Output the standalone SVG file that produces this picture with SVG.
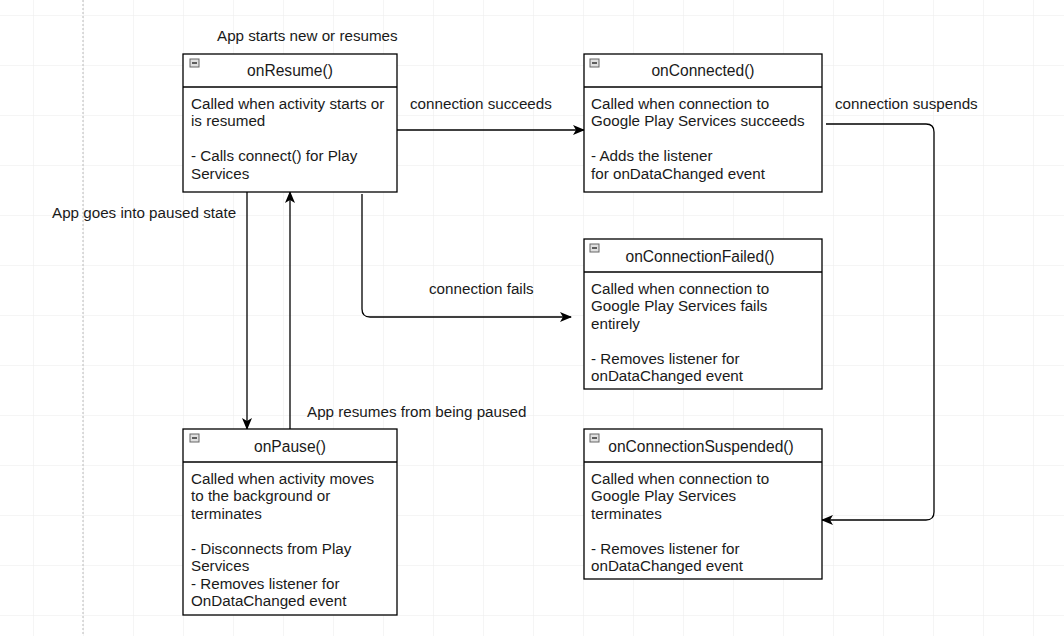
<svg xmlns="http://www.w3.org/2000/svg" width="1064" height="636" viewBox="0 0 1064 636">
<defs>
<pattern id="grid" x="33" y="15" width="50" height="50" patternUnits="userSpaceOnUse">
<path d="M0,0 L50,0 M0,0 L0,50" fill="none" stroke="#ebebeb" stroke-width="1"/>
</pattern>
<marker id="arr" viewBox="0 0 12 10" refX="11" refY="5" markerWidth="12" markerHeight="10" markerUnits="userSpaceOnUse" orient="auto">
<path d="M0,0 L12,5 L0,10 L3,5 Z" fill="#000"/>
</marker>
<g id="icon">
<rect x="0" y="0" width="9" height="8" fill="#e0e0e0" stroke="#666" stroke-width="1"/>
<line x1="2" y1="4" x2="7" y2="4" stroke="#333" stroke-width="1.5"/>
</g>
</defs>
<style>
text{font-family:"Liberation Sans",Arial,sans-serif;font-size:15.2px;fill:#1a1a1a}
.box{fill:#fff;stroke:#000;stroke-width:1.3}
.hdr{stroke:#000;stroke-width:1.3}
.title{text-anchor:middle;font-size:15.6px}
.edge{fill:none;stroke:#000;stroke-width:1.3}
</style>
<rect width="1064" height="636" fill="#fff"/>
<rect width="1064" height="636" fill="url(#grid)"/>
<line x1="83" y1="0" x2="83" y2="636" stroke="#bbb" stroke-width="1" stroke-dasharray="2,2"/>

<g id="connectors">
<path class="edge" d="M397,130 L584,130" marker-end="url(#arr)"/>
<path class="edge" d="M826,124 L926,124 Q934,124 934,132 L934,512 Q934,520 926,520 L822,520" marker-end="url(#arr)"/>
<path class="edge" d="M362,194 L362,309 Q362,317 370,317 L571,317" marker-end="url(#arr)"/>
<path class="edge" d="M247,192 L247,429" marker-end="url(#arr)"/>
<path class="edge" d="M290,429 L290,192" marker-end="url(#arr)"/>
<text x="217" y="41">App starts new or resumes</text>
<text x="410" y="109">connection succeeds</text>
<text x="835" y="109">connection suspends</text>
<text x="429" y="294">connection fails</text>
<text x="52" y="218">App goes into paused state</text>
<text x="307" y="417">App resumes from being paused</text>
</g>

<g id="onResume">
<rect class="box" x="183" y="54" width="214" height="138"/>
<line class="hdr" x1="183" y1="87" x2="397" y2="87"/>
<use href="#icon" x="190" y="59"/>
<text class="title" x="290" y="76">onResume()</text>
<text x="191" y="109">Called when activity starts or</text>
<text x="191" y="126">is resumed</text>
<text x="191" y="161">- Calls connect() for Play</text>
<text x="191" y="179">Services</text>
</g>

<g id="onConnected">
<rect class="box" x="584" y="54" width="238" height="138"/>
<line class="hdr" x1="584" y1="87" x2="822" y2="87"/>
<use href="#icon" x="590" y="59"/>
<text class="title" x="703" y="76">onConnected()</text>
<text x="591" y="109">Called when connection to</text>
<text x="591" y="126">Google Play Services succeeds</text>
<text x="591" y="161">- Adds the listener</text>
<text x="591" y="179">for onDataChanged event</text>
</g>

<g id="onConnectionFailed">
<rect class="box" x="584" y="239" width="238" height="150"/>
<line class="hdr" x1="584" y1="272" x2="822" y2="272"/>
<use href="#icon" x="590" y="244"/>
<text class="title" x="700" y="262">onConnectionFailed()</text>
<text x="591" y="294">Called when connection to</text>
<text x="591" y="311">Google Play Services fails</text>
<text x="591" y="329">entirely</text>
<text x="591" y="364">- Removes listener for</text>
<text x="591" y="381">onDataChanged event</text>
</g>

<g id="onConnectionSuspended">
<rect class="box" x="584" y="429" width="238" height="150"/>
<line class="hdr" x1="584" y1="462" x2="822" y2="462"/>
<use href="#icon" x="590" y="434"/>
<text class="title" x="701" y="452">onConnectionSuspended()</text>
<text x="591" y="484">Called when connection to</text>
<text x="591" y="501">Google Play Services</text>
<text x="591" y="519">terminates</text>
<text x="591" y="554">- Removes listener for</text>
<text x="591" y="571">onDataChanged event</text>
</g>

<g id="onPause">
<rect class="box" x="183" y="429" width="214" height="186"/>
<line class="hdr" x1="183" y1="462" x2="397" y2="462"/>
<use href="#icon" x="190" y="434"/>
<text class="title" x="290" y="452">onPause()</text>
<text x="191" y="484">Called when activity moves</text>
<text x="191" y="501">to the background or</text>
<text x="191" y="519">terminates</text>
<text x="191" y="554">- Disconnects from Play</text>
<text x="191" y="571">Services</text>
<text x="191" y="589">- Removes listener for</text>
<text x="191" y="606">OnDataChanged event</text>
</g>
</svg>
